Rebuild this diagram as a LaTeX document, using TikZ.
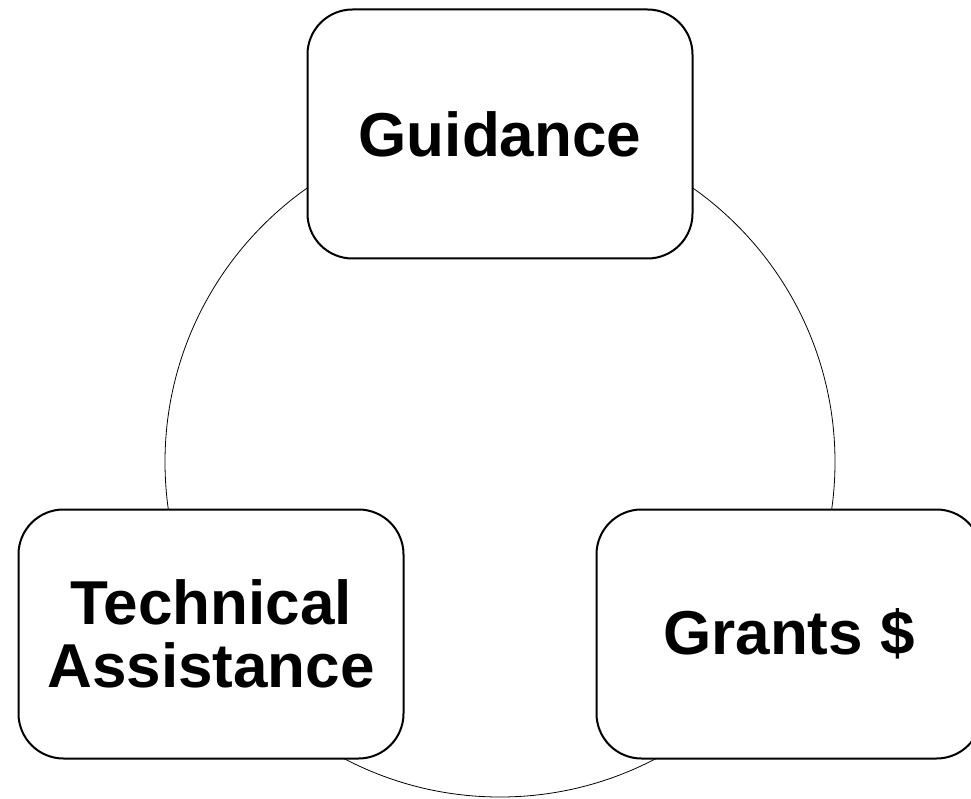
\documentclass[tikz,border=0pt]{standalone}
\usepackage{fontspec}
\setmainfont{Liberation Sans}

\begin{document}
\begin{tikzpicture}[x=1pt, y=-1pt, every node/.style={draw, fill=white, rounded corners=45pt, line width=2pt, minimum width=385pt, minimum height=249pt, inner sep=0pt, align=center, font=\fontsize{62}{63}\selectfont\bfseries}]
\useasboundingbox (0,0) rectangle (971,799);
\coordinate (C0) at (500,462);
\draw[line width=0.8pt] (C0) circle[radius=335pt];
\node (G1N0) at (500,134) {Guidance};
\node (G1N1) at (211,634) {Technical\\Assistance};
\node (G1N2) at (789,634) {Grants \$};
\end{tikzpicture}
\end{document}
